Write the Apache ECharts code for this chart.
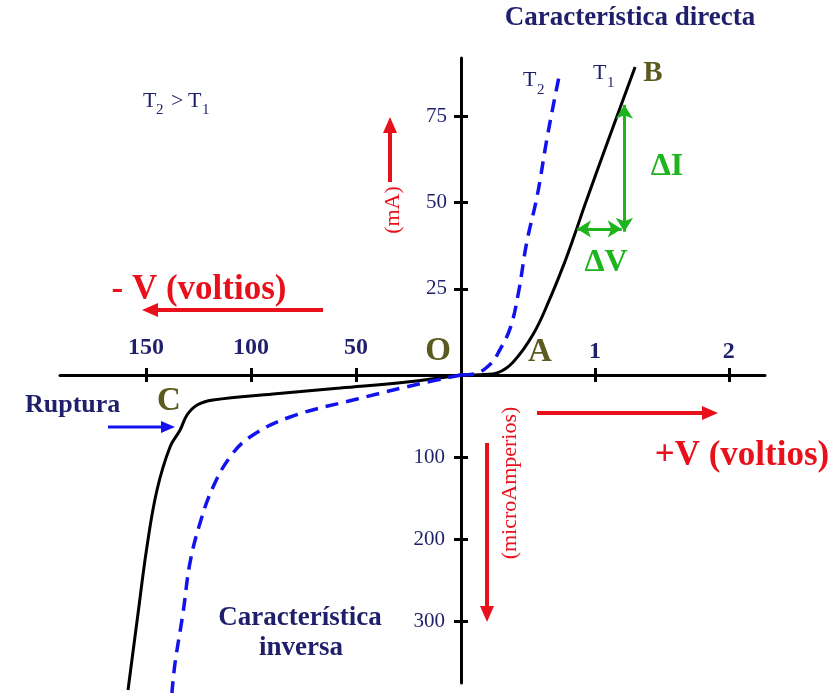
<!DOCTYPE html>
<html>
<head>
<meta charset="utf-8">
<script src="https://cdn.jsdelivr.net/npm/echarts@6/dist/echarts.min.js"></script>
<style>html,body{margin:0;padding:0;background:#fff;}#c{width:837px;height:694px;}</style>
</head>
<body>
<div id="c"></div>
<script>
// ---- data ----
// forward characteristic: V in volts, I in mA
const t1ForwardV = [0, 0.18, 0.27, 0.39, 0.54, 0.66, 0.76, 0.84, 0.93, 1.10, 1.30];
const t1ForwardI = [0, 0.15, 0.6, 3.8, 11.9, 21.8, 31.3, 39.8, 49.9, 68.2, 89.4];
const t2ForwardV = [0, 0.10, 0.22, 0.29, 0.37, 0.43, 0.49, 0.57, 0.64, 0.70, 0.73];
const t2ForwardI = [0, 0.3, 3.2, 7.3, 13.9, 24.1, 38.3, 52.2, 68.2, 80.4, 86.2];
// reverse characteristic: V in volts (magnitude), I in microamperes (magnitude)
const t1ReverseV = [0, 25.7, 57.6, 89.5, 118.1, 125.7, 130.5, 133.8, 138.6, 144.8, 149.6, 153.8, 158.6];
const t1ReverseI = [0, 8.5, 15.9, 23.2, 30.5, 36.6, 48.8, 67.1, 87.8, 140.2, 209.7, 290.2, 384.1];
const t2ReverseV = [0, 18.1, 49.5, 81.4, 100.5, 110.0, 118.1, 124.3, 129.1, 132.4, 136.2, 137.7];
const t2ReverseI = [0, 9.8, 29.3, 51.2, 75.6, 100, 136.6, 180.5, 229.2, 290.2, 351.2, 387.8];
// delta markers (forward region)
const deltaIV = 1.22, deltaIFrom = 41.6, deltaITo = 78.4;
const deltaVI = 42.4, deltaVFrom = 0.866, deltaVTo = 1.20;
// tick labels
const fwdVTicks = [1, 2];
const fwdITicks = [25, 50, 75];
const revVTicks = [50, 100, 150];
const revITicks = [100, 200, 300];

const zip = (a, b) => a.map((v, i) => [v, b[i]]);
const NAVY = '#1f1f6b', OLIVE = '#5b5b1f', RED = '#e8101a', GREEN = '#1eb41e', BLUE = '#1212ee';
const SERIF = '"Liberation Serif", "Times New Roman", serif';

function lineAxis(ticks, extra, label) {
  return Object.assign({
    type: 'value',
    splitLine: { show: false },
    axisLine: { show: true, onZero: false, lineStyle: { color: '#000', width: 3 } },
    axisTick: { show: true, length: 7, customValues: ticks, lineStyle: { color: '#000', width: 3 } },
    axisLabel: Object.assign({ customValues: ticks }, label)
  }, extra);
}
function twinAxis(ticks, extra) {
  return Object.assign({
    type: 'value',
    splitLine: { show: false },
    axisLine: { show: false, onZero: false },
    axisLabel: { show: false },
    axisTick: { show: true, inside: true, length: 7, customValues: ticks, lineStyle: { color: '#000', width: 3 } },
  }, extra);
}

function txt(x, y, text, font, fill, align, extra) {
  return Object.assign({
    type: 'text', x: x, y: y, silent: true,
    style: { text: text, font: font, fill: fill,
      align: align || 'center', verticalAlign: 'middle',
      textAlign: align || 'center', textVerticalAlign: 'middle' }
  }, extra || {});
}
function arrow(x1, y1, x2, y2, color, w, hl, hw) {
  const dx = x2 - x1, dy = y2 - y1, L = Math.hypot(dx, dy), ux = dx / L, uy = dy / L;
  const bx = x2 - ux * hl, by = y2 - uy * hl, px = -uy, py = ux;
  return [
    { type: 'line', silent: true, shape: { x1: x1, y1: y1, x2: bx + ux, y2: by + uy }, style: { stroke: color, lineWidth: w } },
    { type: 'polygon', silent: true, shape: { points: [[x2, y2], [bx + px * hw / 2, by + py * hw / 2], [bx - px * hw / 2, by - py * hw / 2]] }, style: { fill: color } }
  ];
}

const chart = echarts.init(document.getElementById('c'));
const axLabelBold = { fontFamily: SERIF, fontWeight: 'bold', fontSize: 24, color: NAVY };
const axLabelNorm = { fontFamily: SERIF, fontSize: 21, color: NAVY };

const option = {
  animation: false,
  backgroundColor: '#fff',
  grid: [
    { left: 461, top: 58, width: 304, height: 317 },
    { left: 60, top: 375, width: 401, height: 308 }
  ],
  xAxis: [
    lineAxis(fwdVTicks, { gridIndex: 0, min: 0, max: 2.27, position: 'bottom' },
      Object.assign({ inside: true, margin: 11 }, axLabelBold)),
    twinAxis(fwdVTicks, { gridIndex: 0, min: 0, max: 2.27, position: 'bottom' }),
    lineAxis(revVTicks, { gridIndex: 1, min: 0, max: 191, inverse: true, position: 'top' },
      Object.assign({ margin: 15 }, axLabelBold)),
    twinAxis(revVTicks, { gridIndex: 1, min: 0, max: 191, inverse: true, position: 'top' })
  ],
  yAxis: [
    lineAxis(fwdITicks, { gridIndex: 0, min: 0, max: 92, position: 'left' },
      Object.assign({ margin: 14 }, axLabelNorm)),
    twinAxis(fwdITicks, { gridIndex: 0, min: 0, max: 92, position: 'left' }),
    lineAxis(revITicks, { gridIndex: 1, min: 0, max: 375.6, inverse: true, position: 'right' },
      Object.assign({ inside: true, margin: 16 }, axLabelNorm)),
    twinAxis(revITicks, { gridIndex: 1, min: 0, max: 375.6, inverse: true, position: 'right' })
  ],
  series: [
    { name: 'T1 directa', type: 'line', xAxisIndex: 0, yAxisIndex: 0, data: zip(t1ForwardV, t1ForwardI),
      smooth: 0.4, showSymbol: false, clip: false, silent: true,
      lineStyle: { color: '#000', width: 3 }, z: 3,
      markLine: { silent: true, animation: false, symbol: ['arrow', 'arrow'], symbolSize: [13, 14],
        label: { show: false }, lineStyle: { color: GREEN, width: 3, type: 'solid' },
        data: [
          [{ coord: [deltaIV, deltaIFrom] }, { coord: [deltaIV, deltaITo] }],
          [{ coord: [deltaVFrom, deltaVI] }, { coord: [deltaVTo, deltaVI] }]
        ] } },
    { name: 'T2 directa', type: 'line', xAxisIndex: 0, yAxisIndex: 0, data: zip(t2ForwardV, t2ForwardI),
      smooth: 0.4, showSymbol: false, clip: false, silent: true,
      lineStyle: { color: BLUE, width: 3.5, type: [13, 8] }, z: 3 },
    { name: 'T1 inversa', type: 'line', xAxisIndex: 2, yAxisIndex: 2, data: zip(t1ReverseV, t1ReverseI),
      smooth: 0.4, showSymbol: false, clip: false, silent: true,
      lineStyle: { color: '#000', width: 3 }, z: 3 },
    { name: 'T2 inversa', type: 'line', xAxisIndex: 2, yAxisIndex: 2, data: zip(t2ReverseV, t2ReverseI),
      smooth: 0.4, showSymbol: false, clip: false, silent: true,
      lineStyle: { color: BLUE, width: 3.5, type: [13, 8] }, z: 3 }
  ],
  graphic: [].concat(
    [
      txt(630, 18, 'Característica directa', 'bold 27px ' + SERIF, NAVY),
      txt(300, 618, 'Característica', 'bold 27px ' + SERIF, NAVY),
      txt(301, 648, 'inversa', 'bold 27px ' + SERIF, NAVY),
      txt(25, 405, 'Ruptura', 'bold 26px ' + SERIF, NAVY, 'left'),
      txt(199, 290, '- V (voltios)', 'bold 35px ' + SERIF, RED),
      txt(742, 456, '+V (voltios)', 'bold 35px ' + SERIF, RED),
      txt(393, 210, '(mA)', '22px ' + SERIF, RED, 'center', { rotation: Math.PI / 2 }),
      txt(510, 483, '(microAmperios)', '22px ' + SERIF, RED, 'center', { rotation: Math.PI / 2 }),
      txt(438, 351, 'O', 'bold 33px ' + SERIF, OLIVE),
      txt(540, 352, 'A', 'bold 33px ' + SERIF, OLIVE),
      txt(169, 401, 'C', 'bold 33px ' + SERIF, OLIVE),
      txt(653, 74, 'B', 'bold 29px ' + SERIF, OLIVE),
      txt(667, 167, 'ΔI', 'bold 32px ' + SERIF, GREEN),
      txt(606, 263, 'ΔV', 'bold 32px ' + SERIF, GREEN),
      txt(143, 101, 'T', '22px ' + SERIF, NAVY, 'left'),
      txt(156, 110, '2', '15px ' + SERIF, NAVY, 'left'),
      txt(171, 101, '>', '22px ' + SERIF, NAVY, 'left'),
      txt(188, 101, 'T', '22px ' + SERIF, NAVY, 'left'),
      txt(202, 110, '1', '15px ' + SERIF, NAVY, 'left'),
      txt(523, 80, 'T', '22px ' + SERIF, NAVY, 'left'),
      txt(537, 90, '2', '15px ' + SERIF, NAVY, 'left'),
      txt(593, 73, 'T', '22px ' + SERIF, NAVY, 'left'),
      txt(607, 83, '1', '15px ' + SERIF, NAVY, 'left')
    ],
    arrow(390, 182, 390, 117, RED, 4, 16, 14),
    arrow(487, 443, 487, 622, RED, 4, 16, 14),
    arrow(323, 310, 142, 310, RED, 4, 16, 14),
    arrow(537, 413, 718, 413, RED, 4, 16, 14),
    arrow(108, 427, 175, 427, BLUE, 3, 14, 12)
  )
};
chart.setOption(option);
</script>
</body>
</html>
